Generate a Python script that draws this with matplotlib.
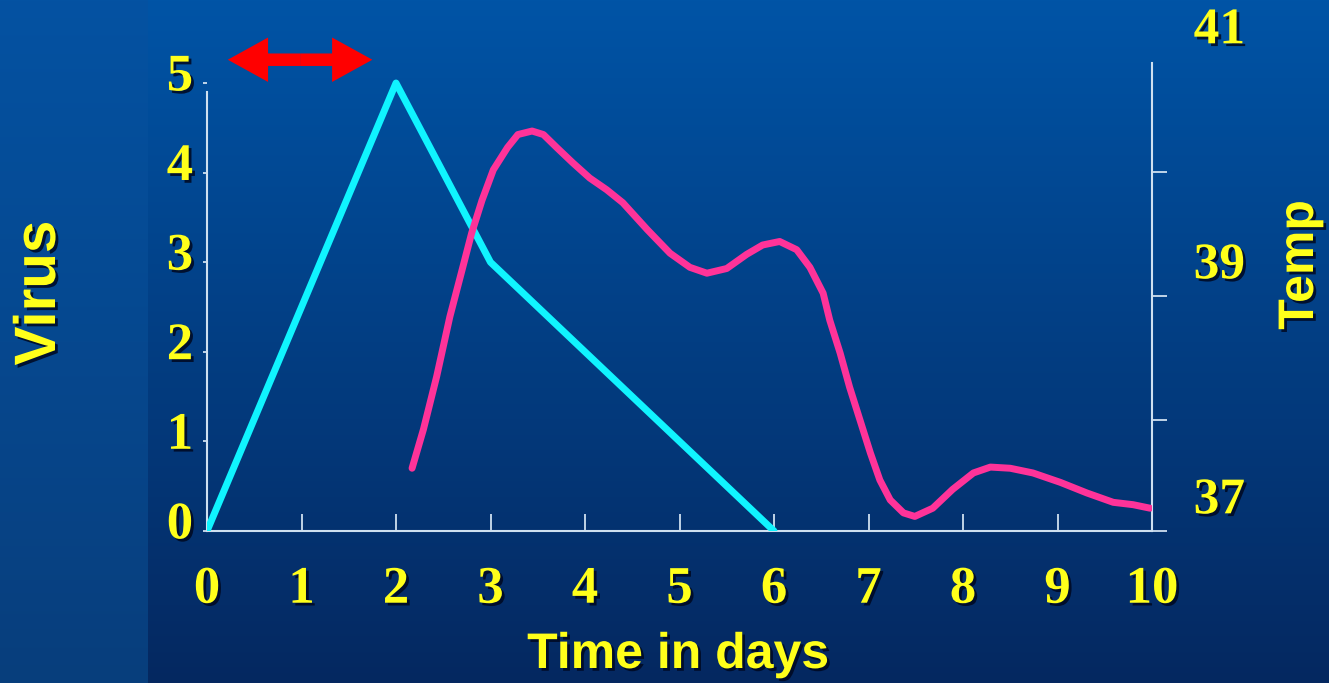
#!/usr/bin/env python3
# coding: utf-8
"""
virus titre and body temperature over the course of an infection
"""

# %% libraries
import numpy as np
import matplotlib
matplotlib.use('Agg')
import matplotlib.pyplot as plt
import matplotlib.patheffects as pe
from matplotlib.transforms import ScaledTranslation
from matplotlib.patches import FancyArrowPatch

# %% data
# virus (left axis)
virus_days = [0, 2, 3, 6]
virus_level = [0, 5, 3, 0]

# temperature (right axis)
temp_days = [2.17, 2.29, 2.43, 2.57, 2.70, 2.80, 2.91, 3.03, 3.18, 3.29,
             3.44, 3.56, 3.70, 3.87, 4.05, 4.23, 4.40, 4.66, 4.90, 5.11,
             5.29, 5.50, 5.71, 5.88, 6.06, 6.24, 6.38, 6.52, 6.59, 6.70,
             6.80, 6.91, 7.02, 7.12, 7.23, 7.37, 7.49, 7.68, 7.89, 8.11,
             8.29, 8.50, 8.74, 9.03, 9.31, 9.59, 9.80, 9.98]
temp_level = [37.27, 37.60, 38.05, 38.56, 38.96, 39.27, 39.55, 39.81, 40.00,
              40.11, 40.14, 40.11, 40.00, 39.87, 39.74, 39.64, 39.53, 39.30,
              39.10, 38.98, 38.93, 38.97, 39.09, 39.17, 39.20, 39.13, 38.98,
              38.76, 38.53, 38.25, 37.96, 37.68, 37.40, 37.17, 37.00, 36.89,
              36.86, 36.93, 37.09, 37.23, 37.28, 37.27, 37.23, 37.15, 37.06,
              36.98, 36.96, 36.93]

# ticks
day_ticks = list(range(0, 11))
virus_ticks = [0, 1, 2, 3, 4, 5]
temp_labels = [37, 39, 41]
temp_marks = [36.736, 37.68, 38.74, 39.79]

# incubation arrow (days, virus units)
arrow_span = [0.22, 1.75]
arrow_level = 5.26

# %% style
yellow = '#ffff1a'
axis_col = '#cfe0f0'
serif = 'Liberation Serif'
sans = 'Liberation Sans'
shadow = [pe.withSimplePatchShadow(offset=(2, -2), shadow_rgbFace='#000820',
                                   alpha=0.85)]

# %% figure
fig = plt.figure(figsize=(13.29, 6.83), dpi=100)

# --+ background gradient
bg = fig.add_axes([0, 0, 1, 1], zorder=-10)
h, w = 683, 1329
t = np.linspace(0, 1, h)[:, None]
top = np.array([0, 84, 166]) / 255
bot = np.array([5, 40, 96]) / 255
col = top + (bot - top) * t
img = np.repeat(col[:, None, :], w, axis=1)
strip_top = np.array([4, 82, 162]) / 255
strip_bot = np.array([8, 62, 124]) / 255
strip = strip_top + (strip_bot - strip_top) * t
img[:, :148] = strip[:, None, :]
bg.imshow(img, aspect='auto', extent=(0, 1, 0, 1))
bg.set_axis_off()

# --+ main axes
ax = fig.add_axes([207 / 1329, 152 / 683, 945 / 1329, 521 / 683])
ax.set_facecolor('none')
ax.set_xlim(0, 10)
ax.set_ylim(0, 5.815)

ax.plot(virus_days, virus_level, color='#10f4ff', lw=5,
        solid_joinstyle='round', solid_capstyle='round', zorder=3)

# axis properties
ax.set_xticks(day_ticks)
ax.set_yticks(virus_ticks)
ax.tick_params(axis='x', direction='in', length=12, width=1.3,
               color=axis_col, pad=25, labelsize=38, labelcolor=yellow)
ax.tick_params(axis='y', direction='out', length=3, width=1.3,
               color=axis_col, pad=7, labelsize=38, labelcolor=yellow)
for lab in ax.get_xticklabels() + ax.get_yticklabels():
    lab.set_fontfamily(serif)
    lab.set_fontweight('bold')
    lab.set_path_effects(shadow)
for tk in ax.yaxis.get_major_ticks():
    tk.label1.set_transform(tk.label1.get_transform()
                            + ScaledTranslation(0, 8 / 72, fig.dpi_scale_trans))

for side in ['top', 'right']:
    ax.spines[side].set_visible(False)
for side in ['left', 'bottom']:
    ax.spines[side].set_color(axis_col)
    ax.spines[side].set_linewidth(1.5)
ax.spines['left'].set_bounds(0, 4.9)

# --+ temperature axis
ax2 = ax.twinx()
ax2.set_ylim(36.736, 41.17)
ax2.plot(temp_days, temp_level, color='#ff3399', lw=5,
         solid_joinstyle='round', solid_capstyle='round', zorder=3)
ax2.set_yticks(temp_labels)
ax2.set_yticks(temp_marks, minor=True)
ax2.tick_params(axis='y', which='major', length=0, pad=30, labelsize=37,
                labelcolor=yellow)
ax2.tick_params(axis='y', which='minor', direction='out', length=11,
                width=1.3, color=axis_col)
for lab in ax2.get_yticklabels():
    lab.set_fontfamily(serif)
    lab.set_fontweight('bold')
    lab.set_path_effects(shadow)
for tk in ax2.yaxis.get_major_ticks():
    tk.label2.set_transform(tk.label2.get_transform()
                            + ScaledTranslation(0, 3 / 72, fig.dpi_scale_trans))
for side in ['top', 'left', 'bottom']:
    ax2.spines[side].set_visible(False)
ax2.spines['right'].set_color(axis_col)
ax2.spines['right'].set_linewidth(1.5)
ax2.spines['right'].set_bounds(36.736, 40.72)

# --+ incubation arrow, drawn as two halves from the middle
mid = (arrow_span[0] + arrow_span[1]) / 2
for end in arrow_span:
    ax.add_patch(FancyArrowPatch(
        (mid, arrow_level), (end, arrow_level),
        arrowstyle='simple,head_length=29,head_width=32,tail_width=9',
        mutation_scale=1, color='#ff0000', lw=0, shrinkA=0, shrinkB=0,
        clip_on=False, zorder=4))

# --+ axis titles
fig.text(40 / 1329, 1 - 293 / 683, 'Virus', rotation=90, ha='center',
         va='center', fontsize=42, fontweight='bold', family=sans,
         color=yellow, path_effects=shadow)
fig.text(1300 / 1329, 1 - 265 / 683, 'Temp', rotation=90, ha='center',
         va='center', fontsize=36, fontweight='bold', family=sans,
         color=yellow, path_effects=shadow)
fig.text(678 / 1329, 1 - 655 / 683, 'Time in days', ha='center',
         va='center', fontsize=36, fontweight='bold', family=sans,
         color=yellow, path_effects=shadow)

# save plot to file
plt.savefig('out.png', dpi=100)
